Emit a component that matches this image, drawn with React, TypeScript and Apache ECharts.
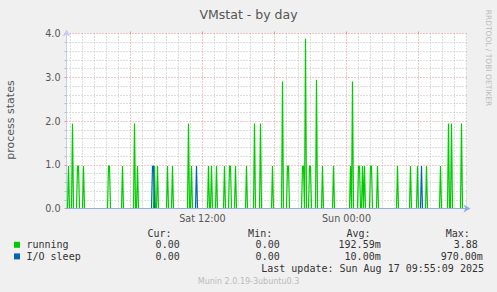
import { useEffect, useRef } from "react";
import * as echarts from "echarts";

// Time axis: one sample every 5 minutes, first sample Sat 00:40, last Sun 10:00
const START_MINUTE = 40;
const STEP_MINUTES = 5;
const SAMPLE_COUNT = 401;

// Non-zero samples: [sample index, value]; all other samples are 0
const runningSpikes: [number, number][] = [
  [2, 0.97], [6, 1.94], [11, 0.97], [12, 0.97], [17, 0.97], [42, 0.97], [43, 0.97],
  [56, 0.97], [68, 1.94], [71, 0.97], [88, 0.97], [91, 0.97], [101, 0.97], [106, 0.97],
  [122, 1.94], [125, 0.97], [142, 0.97], [145, 0.97], [150, 0.97], [158, 0.97],
  [163, 0.97], [164, 0.97], [169, 0.97], [180, 0.97], [188, 1.94], [194, 1.94],
  [206, 0.97], [216, 2.9], [221, 0.97], [222, 0.97], [236, 0.97], [237, 0.97],
  [239, 3.88], [243, 0.97], [244, 0.97], [250, 2.94], [256, 0.97], [267, 0.97],
  [284, 0.97], [286, 2.9], [292, 0.97], [293, 0.97], [296, 0.97], [298, 0.97],
  [304, 0.97], [305, 0.97], [311, 0.97], [331, 0.97], [344, 0.97], [351, 0.97],
  [360, 0.97], [374, 0.97], [382, 1.94], [385, 1.94], [395, 1.94],
];
const ioSleepSpikes: [number, number][] = [
  [86, 0.97], [87, 0.97], [130, 0.97], [355, 0.97],
];

const yTicks = [0, 1, 2, 3, 4];

const legendNames = ["running", "I/O sleep"];
const legendColors = ["#00cc00", "#0066b3"];
const curValues = ["0.00", "0.00"];
const minValues = ["0.00", "0.00"];
const avgValues = ["192.59m", "10.00m"];
const maxValues = ["3.88", "970.00m"];

const TITLE = "VMstat - by day";
const Y_LABEL = "process states";
const LAST_UPDATE = "Last update: Sun Aug 17 09:55:09 2025";
const FOOTER = "Munin 2.0.19-3ubuntu0.3";
const WATERMARK = "RRDTOOL / TOBI OETIKER";

const pad2 = (n: number) => (n < 10 ? "0" + n : String(n));
const minuteOf = (i: number) => START_MINUTE + i * STEP_MINUTES;
const categories: string[] = [];
for (let i = 0; i < SAMPLE_COUNT; i++) {
  const m = minuteOf(i);
  const day = m < 1440 ? "Sat" : "Sun";
  const mm = m % 1440;
  categories.push(`${day} ${pad2(Math.floor(mm / 60))}:${pad2(mm % 60)}`);
}

const buildSeries = (spikes: [number, number][]) => {
  const arr: number[] = new Array(SAMPLE_COUNT).fill(0);
  spikes.forEach(([i, v]) => {
    arr[i] = v;
  });
  return arr;
};

const isHour = (i: number) => minuteOf(i) % 60 === 0 && minuteOf(i) % 360 !== 0;
const isMajor = (i: number) => minuteOf(i) % 360 === 0;
const isLabel = (i: number) => minuteOf(i) % 720 === 0;

const SANS = "DejaVu Sans";
const MONO = "DejaVu Sans Mono";
const MINOR_GRID = "#bcbcbc";
const MAJOR_GRID = "#f08c8c";

export default function App() {
  const ref = useRef<HTMLDivElement>(null);
  useEffect(() => {
    if (!ref.current) return;
    const chart = echarts.init(ref.current, undefined, { renderer: "svg" });
    const gridBase = { left: 66.5, top: 33.5, width: 400, height: 175 };

    const legendGraphics: any[] = [];
    const headerY = 233.5;
    const rowY = [244.8, 256.4];
    const headers: [string, number][] = [
      ["Cur:", 171.5],
      ["Min:", 272.2],
      ["Avg:", 370.5],
      ["Max:", 469.8],
    ];
    headers.forEach(([t, x]) => {
      legendGraphics.push({
        type: "text",
        x,
        y: headerY,
        style: { text: t, font: `10px "${MONO}"`, fill: "#333", align: "right", verticalAlign: "middle" },
      });
    });
    legendNames.forEach((name, r) => {
      legendGraphics.push({
        type: "rect",
        shape: { x: 14, y: rowY[r] - 3, width: 6, height: 6 },
        style: { fill: legendColors[r] },
      });
      legendGraphics.push({
        type: "text",
        x: 26.5,
        y: rowY[r],
        style: { text: name, font: `10px "${MONO}"`, fill: "#333", align: "left", verticalAlign: "middle" },
      });
      const cols: [string, number][] = [
        [curValues[r], 179.7],
        [minValues[r], 279.7],
        [avgValues[r], 380.7],
        [maxValues[r], maxValues[r].endsWith("m") ? 482.9 : 477.9],
      ];
      cols.forEach(([t, x]) => {
        legendGraphics.push({
          type: "text",
          x,
          y: rowY[r],
          style: { text: t, font: `10px "${MONO}"`, fill: "#333", align: "right", verticalAlign: "middle" },
        });
      });
    });

    const option: any = {
      animation: false,
      backgroundColor: "#f0f0f0",
      textStyle: { fontFamily: SANS },
      grid: { ...gridBase, show: true, backgroundColor: "#ffffff", borderWidth: 0 },
      xAxis: [
        {
          type: "category",
          data: categories,
          boundaryGap: false,
          z: 5,
          axisLine: {
            show: true,
            lineStyle: { color: "#93aae2", width: 1 },
            symbol: ["none", "arrow"],
            symbolSize: [6, 7],
            symbolOffset: [0, 4],
          },
          axisTick: { show: false },
          axisLabel: {
            interval: (i: number) => isLabel(i),
            color: "#555",
            fontFamily: SANS,
            fontSize: 9.6,
            margin: 5,
          },
          splitLine: { show: false },
        },
        {
          type: "category",
          data: categories,
          boundaryGap: false,
          axisLine: { show: false },
          axisTick: { show: false },
          axisLabel: { show: false },
          splitLine: {
            show: true,
            interval: (i: number) => isHour(i),
            lineStyle: { color: MINOR_GRID, width: 1, type: [1, 2] },
          },
        },
        {
          type: "category",
          data: categories,
          boundaryGap: false,
          axisLine: { show: false },
          axisTick: {
            show: true,
            interval: (i: number) => isMajor(i),
            length: 2,
            lineStyle: { color: MAJOR_GRID },
          },
          axisLabel: { show: false },
          splitLine: {
            show: true,
            interval: (i: number) => isMajor(i),
            lineStyle: { color: MAJOR_GRID, width: 1, type: [1, 2] },
          },
        },
      ],
      yAxis: {
        type: "value",
        min: yTicks[0],
        max: yTicks[yTicks.length - 1],
        interval: 1,
        axisLine: {
          show: true,
          lineStyle: { color: "#c4ccf2", width: 1 },
          symbol: ["none", "arrow"],
          symbolSize: [6, 7],
          symbolOffset: [0, 4],
        },
        axisTick: { show: true, length: 2, lineStyle: { color: MAJOR_GRID } },
        minorTick: { show: true, splitNumber: 5, length: 2, lineStyle: { color: MINOR_GRID } },
        axisLabel: {
          formatter: (v: number) => v.toFixed(1),
          color: "#555",
          fontFamily: SANS,
          fontSize: 9.6,
          margin: 6,
        },
        splitLine: { show: true, lineStyle: { color: MAJOR_GRID, width: 1, type: [1, 2] } },
        minorSplitLine: { show: true, lineStyle: { color: MINOR_GRID, width: 1, type: [1, 2] } },
      },
      series: [
        {
          name: legendNames[0],
          type: "line",
          xAxisIndex: 0,
          data: buildSeries(runningSpikes),
          showSymbol: false,
          symbol: "none",
          lineStyle: { color: legendColors[0], width: 1.2 },
          z: 2,
        },
        {
          name: legendNames[1],
          type: "line",
          xAxisIndex: 0,
          data: buildSeries(ioSleepSpikes),
          showSymbol: false,
          symbol: "none",
          lineStyle: { color: legendColors[1], width: 1.2 },
          z: 3,
        },
      ],
      graphic: [
        {
          type: "text",
          x: 248.5,
          y: 14,
          style: { text: TITLE, font: `12.5px "${SANS}"`, fill: "#555", align: "center", verticalAlign: "middle" },
        },
        {
          type: "text",
          x: 10.5,
          y: 120,
          rotation: Math.PI / 2,
          style: { text: Y_LABEL, font: `11px "${SANS}"`, fill: "#555", align: "center", verticalAlign: "middle" },
        },
        {
          type: "text",
          x: 488.5,
          y: 58,
          rotation: -Math.PI / 2,
          style: { text: WATERMARK, font: `7.5px "${SANS}"`, fill: "#bbb", align: "center", verticalAlign: "middle" },
        },
        ...legendGraphics,
        {
          type: "text",
          x: 484,
          y: 268.8,
          style: { text: LAST_UPDATE, font: `10px "${MONO}"`, fill: "#333", align: "right", verticalAlign: "middle" },
        },
        {
          type: "text",
          x: 248.5,
          y: 281,
          style: { text: FOOTER, font: `8px "${SANS}"`, fill: "#bbb", align: "center", verticalAlign: "middle" },
        },
      ],
    };
    chart.setOption(option);
    return () => chart.dispose();
  }, []);
  return (
    <div
      ref={ref}
      style={{ position: "fixed", left: 0, top: 0, width: 497, height: 292 }}
    />
  );
}
